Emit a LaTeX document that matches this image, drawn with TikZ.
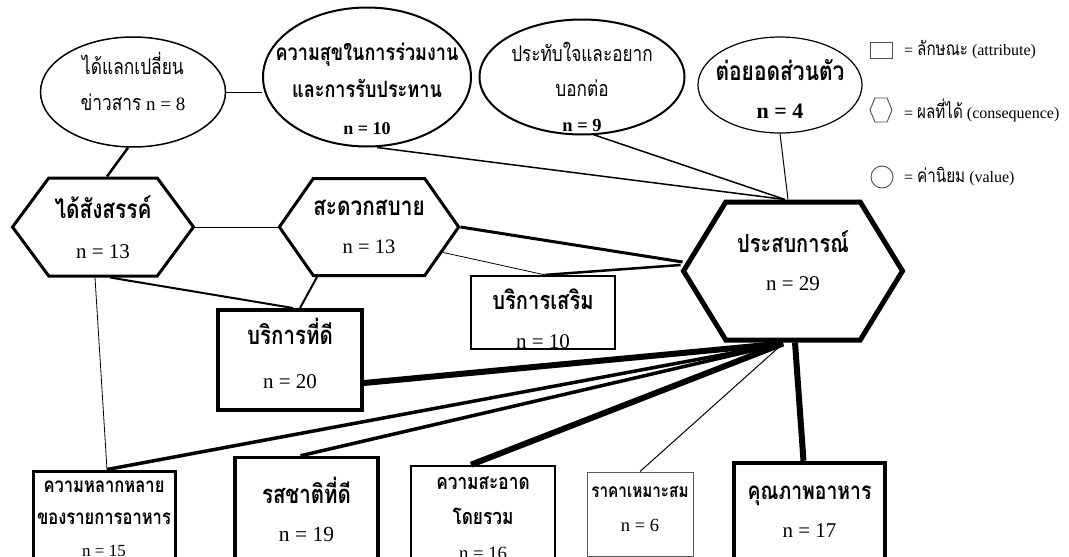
\documentclass[tikz,border=0pt]{standalone}
\usepackage{fontspec}
\setmainfont{Liberation Serif}
\newfontfamily\thai[Script=Thai, FakeStretch=0.8]{Loma}
\usetikzlibrary{shapes.geometric,shapes.symbols,calc}
\tikzset{
  valnode/.style={draw, ellipse, align=center, inner sep=-30pt},
  conhex/.style={draw, signal, signal to=east and west, align=center, inner sep=0pt},
  attrbox/.style={draw, rectangle, align=center, inner sep=0pt},
  link/.style={line width=#1},
  link/.default=1pt,
  keyshape/.style={draw=black!70, line width=0.9pt, inner sep=0pt},
  keytext/.style={anchor=west, inner sep=0pt, font=\fontsize{16}{18}\selectfont}
}
\newcommand{\thb}[2]{{\fontsize{#1}{#1}\selectfont\thai\bfseries #2}}
\newcommand{\thn}[2]{{\fontsize{#1}{#1}\selectfont\thai #2}}
\newcommand{\txtdown}[1]{\rule{0pt}{#1}}
\newcommand{\txtup}[1]{\rule[-#1]{0pt}{#1}}

\begin{document}
\begin{tikzpicture}[x=1pt, y=-1pt]
  \clip (0,0) rectangle (1069,557);
  % values (ellipses)
  \node[valnode, line width=1.5pt, minimum width=185pt, minimum height=110pt, font=\fontsize{19}{36}\selectfont] (exchange) at (133,92) {\thn{21.6}{ได้แลกเปลี่ยน}\\\thn{21.6}{ข่าวสาร} n = 8\txtup{22pt}};
  \node[valnode, line width=2pt, minimum width=208pt, minimum height=139pt, font=\fontsize{18}{37}\selectfont] (happy) at (367,77) {\txtdown{42pt}\thb{22.6}{ความสุขในการร่วมงาน}\\\thb{22.6}{และการรับประทาน}\\\textbf{n = 10}};
  \node[valnode, line width=2pt, minimum width=205pt, minimum height=115pt, font=\fontsize{18.5}{35}\selectfont] (impress) at (582,77) {\txtdown{40pt}\thn{21.5}{ประทับใจและอยาก}\\\thn{21.5}{บอกต่อ}\\\textbf{n = 9}};
  \node[valnode, line width=1.2pt, minimum width=164pt, minimum height=96pt, font=\fontsize{22}{38}\selectfont] (ownuse) at (780,85) {\txtdown{28pt}\thb{26.2}{ต่อยอดส่วนตัว}\\\textbf{n = 4}};

  % consequences (hexagons)
  \node[conhex, line width=3pt, minimum width=181pt, minimum height=98pt, signal pointer angle=107, font=\fontsize{21}{40}\selectfont] (social) at (103,227) {\thb{26}{ได้สังสรรค์}\\n = 13};
  \node[conhex, line width=3pt, minimum width=176pt, minimum height=97pt, signal pointer angle=110, font=\fontsize{20.5}{38}\selectfont] (convenient) at (369,227) {\thb{26}{สะดวกสบาย}\\n = 13};
  \node[conhex, line width=5pt, minimum width=219pt, minimum height=138pt, signal pointer angle=117, font=\fontsize{21}{38}\selectfont] (experience) at (793,271) {\thb{25}{ประสบการณ์}\\n = 29\txtup{20pt}};

  % attributes (boxes)
  \node[attrbox, line width=4pt, minimum width=144pt, minimum height=100pt, font=\fontsize{21}{44}\selectfont] (goodservice) at (290,360) {\thb{25.6}{บริการที่ดี}\\n = 20\txtup{14pt}};
  \node[attrbox, line width=2pt, minimum width=144pt, minimum height=73pt, font=\fontsize{21}{39}\selectfont] (extraservice) at (543,312.5) {\txtdown{34pt}\thb{25.2}{บริการเสริม}\\n = 10};
  \node[attrbox, line width=3pt, minimum width=142pt, minimum height=96pt, font=\fontsize{17}{32}\selectfont] (variety) at (104,519) {\thb{20.7}{ความหลากหลาย}\\\thb{20.7}{ของรายการอาหาร}\\n = 15};
  \node[attrbox, line width=3.5pt, minimum width=143pt, minimum height=116pt, font=\fontsize{21.5}{38}\selectfont] (taste) at (306.5,515.5) {\thb{25.6}{รสชาติที่ดี}\\n = 19\txtup{13pt}};
  \node[attrbox, line width=2.5pt, minimum width=144pt, minimum height=104pt, font=\fontsize{18.7}{35}\selectfont] (clean) at (483,518) {\thb{21.6}{ความสะอาด}\\\thb{21.6}{โดยรวม}\\n = 16};
  \node[attrbox, draw=black!65, line width=1pt, minimum width=106pt, minimum height=84pt, font=\fontsize{18.5}{34}\selectfont] (price) at (640,514) {\thb{19.1}{ราคาเหมาะสม}\\n = 6\txtup{10pt}};
  \node[attrbox, line width=4.5pt, minimum width=151pt, minimum height=98pt, font=\fontsize{21}{38}\selectfont] (quality) at (809.5,512) {\thb{24.2}{คุณภาพอาหาร}\\n = 17};

  % legend
  \node[keyshape, rectangle, minimum width=22pt, minimum height=16pt] (keyattr) at (881,50) {};
  \node[keyshape, signal, signal to=east and west, signal pointer angle=135, minimum width=22pt, minimum height=24pt] (keycons) at (881,110) {};
  \node[keyshape, circle, minimum size=22pt] (keyval) at (882,177) {};
  \node[keytext] (keyattrtext) at (904,50) {= \thn{19}{ลักษณะ} (attribute)};
  \node[keytext] (keyconstext) at (904,110) {= \thn{19}{ผลที่ได้} (consequence)};
  \node[keytext] (keyvaltext) at (904,177) {= \thn{19}{ค่านิยม} (value)};

  % meeting points on the central hexagon
  \coordinate (exptop) at ($(experience.north)+(-8,0)$);
  \coordinate (expbot) at ($(experience.south)+(-10,1)$);

  % links
  \draw[link] (exchange.east) -- (exchange.east -| happy.west);
  \draw[link=2.5pt] ($(exchange.south)+(-5,0)$) -- ($(social.north)+(4,0)$);
  \draw[link=1.5pt] ($(happy.south)+(10,0)$) -- (exptop);
  \draw[link=1.5pt] ($(impress.south)+(11,-1)$) -- (exptop);
  \draw[link] (ownuse.south) -- ($(experience.north)+(-5,0)$);
  \draw[link] (social.east) -- (convenient.west);
  \draw[link=2pt] ($(social.south)+(7,0)$) -- ($(goodservice.north)+(3,0)$);
  \draw[link=0.8pt] ($(social.south)+(-8,0)$) -- ($(variety.north)+(3,0)$);
  \draw[link=2pt] ($(convenient.south)+(-52,0)$) -- ($(goodservice.north)+(10,0)$);
  \draw[link=3pt] (convenient.east) -- ($(experience.west)+(2,-9)$);
  \draw[link=0.8pt] (convenient.-19) -- ($(extraservice.north)+(2,0)$);
  \draw[link=2.5pt] ($(extraservice.north)+(2,0)$) -- ($(experience.west)+(0,-6)$);
  \draw[link=6pt] ($(goodservice.east)+(0,23)$) -- (expbot);
  \draw[link=3.5pt] ($(variety.north)+(3,0)$) -- (expbot);
  \draw[link=3.5pt] ($(taste.north)+(-6,0)$) -- (expbot);
  \draw[link=6pt] ($(clean.north)+(-12,0)$) -- (expbot);
  \draw[link] (price.north) -- (expbot);
  \draw[link=6pt] ($(experience.south)+(2,0)$) -- ($(quality.north)+(-6,0)$);
  \draw[link] ($(price.east)+(0,-8)$) -- ($(price.east)+(0,-8)$ -| quality.west);
\end{tikzpicture}
\end{document}
